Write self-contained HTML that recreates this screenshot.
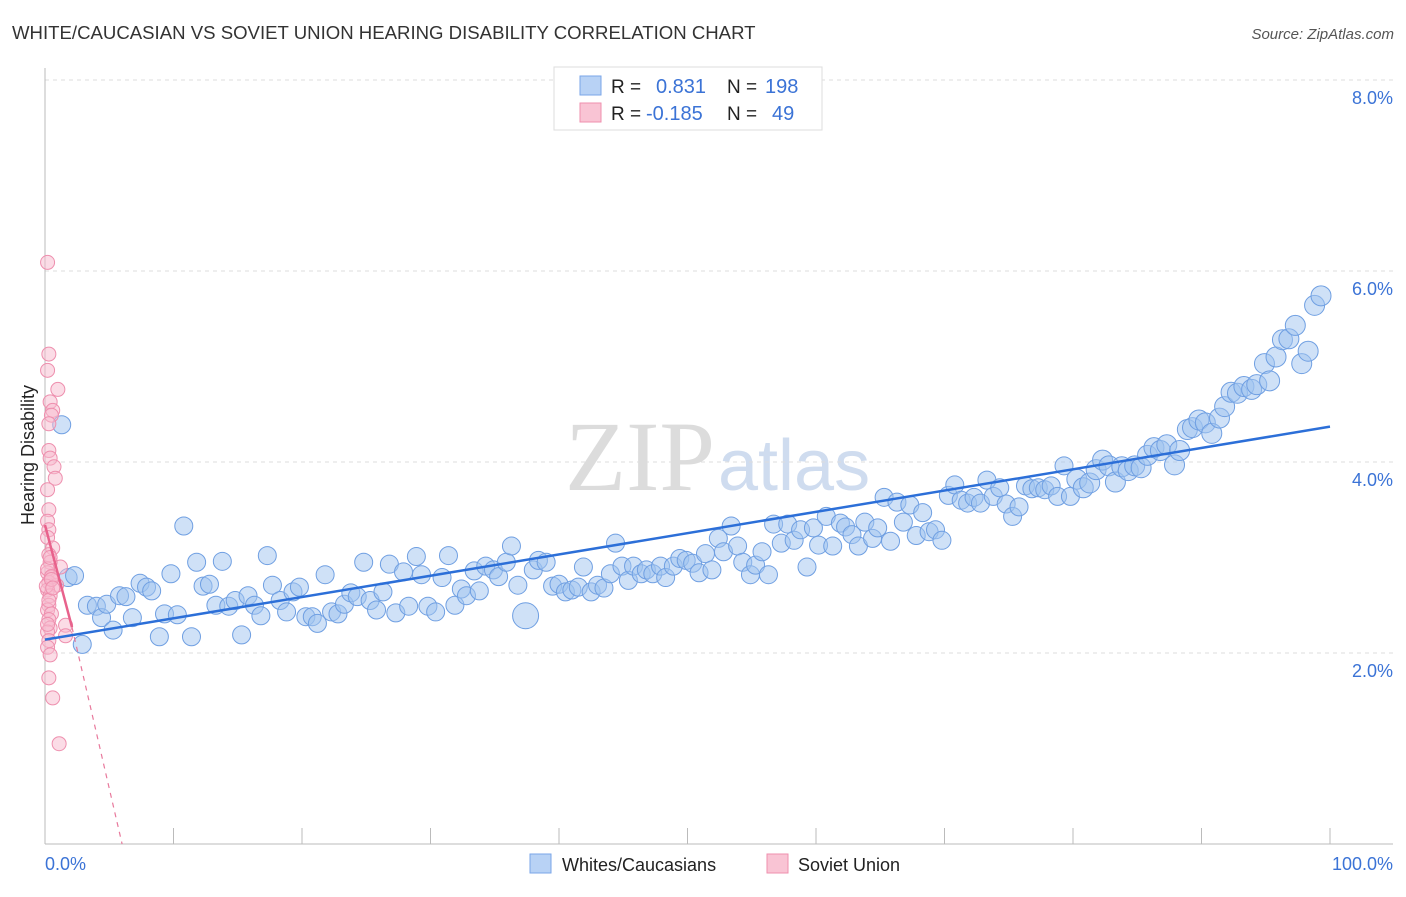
<!DOCTYPE html>
<html><head><meta charset="utf-8"><style>
body{margin:0;background:#fff;font-family:"Liberation Sans",sans-serif;}
</style></head><body>
<svg id="chart" width="1406" height="892" font-family="Liberation Sans, sans-serif">
<text x="12" y="39" font-size="18.6" fill="#333">WHITE/CAUCASIAN VS SOVIET UNION HEARING DISABILITY CORRELATION CHART</text>
<text x="1394" y="39" font-size="15" fill="#555" text-anchor="end" font-style="italic">Source: ZipAtlas.com</text>
<text x="715" y="490" font-size="100" fill="#dcdcdc" text-anchor="end" style="font-family:'Liberation Serif',serif">ZIP</text>
<text x="718" y="490" font-size="72" fill="#cfdcef">atlas</text>
<g id="grid"></g><g id="marks"></g>
<text transform="translate(34,455) rotate(-90)" font-size="18" fill="#222" text-anchor="middle">Hearing Disability</text>
<text x="45" y="870" font-size="18" fill="#3b73d6">0.0%</text>
<text x="1393" y="870" font-size="18" fill="#3b73d6" text-anchor="end">100.0%</text>
<g>
<rect x="554" y="67" width="268" height="63" fill="#fff" stroke="#ddd"/>
<rect x="580" y="76" width="21" height="19" fill="#b8d2f5" stroke="#7aa6e8"/>
<rect x="580" y="103" width="21" height="19" fill="#f9c4d4" stroke="#ef8fae"/>
<text x="611" y="93" font-size="19" fill="#222">R = </text><text x="656" y="93" font-size="20" fill="#3b73d6">0.831</text>
<text x="727" y="93" font-size="19" fill="#222">N = </text><text x="765" y="93" font-size="20" fill="#3b73d6">198</text>
<text x="611" y="120" font-size="19" fill="#222">R = </text><text x="646" y="120" font-size="20" fill="#3b73d6">-0.185</text>
<text x="727" y="120" font-size="19" fill="#222">N = </text><text x="772" y="120" font-size="20" fill="#3b73d6">49</text>
</g>
<g><rect x="530" y="854" width="21" height="19" fill="#b8d2f5" stroke="#7aa6e8"/><text x="562" y="871" font-size="18" fill="#222">Whites/Caucasians</text></g>
<g><rect x="767" y="854" width="21" height="19" fill="#f9c4d4" stroke="#ef8fae"/><text x="798" y="871" font-size="18" fill="#222">Soviet Union</text></g>
</svg>
<script>
const yTicks=[2,4,6,8];
const blueX=[1.3,1.8,2.3,2.9,3.3,4.0,4.4,4.8,5.3,5.8,6.3,6.8,7.4,7.9,8.3,8.9,9.3,9.8,10.3,10.8,11.4,11.8,12.3,12.8,13.3,13.8,14.3,14.8,15.3,15.8,16.3,16.8,17.3,17.7,18.3,18.8,19.3,19.8,20.3,20.8,21.2,21.8,22.3,22.8,23.3,23.8,24.3,24.8,25.3,25.8,26.3,26.8,27.3,27.9,28.3,28.9,29.3,29.8,30.4,30.9,31.4,31.9,32.4,32.8,33.4,33.8,34.3,34.9,35.3,35.9,36.3,36.8,37.4,38.0,38.4,39.0,39.5,40.0,40.5,41.0,41.5,41.9,42.5,43.0,43.5,44.0,44.4,44.9,45.4,45.8,46.4,46.8,47.3,47.9,48.3,48.9,49.4,49.9,50.4,50.9,51.4,51.9,52.4,52.8,53.4,53.9,54.3,54.9,55.3,55.8,56.3,56.7,57.3,57.8,58.3,58.8,59.3,59.8,60.2,60.8,61.3,61.9,62.3,62.8,63.3,63.8,64.4,64.8,65.3,65.8,66.3,66.8,67.3,67.8,68.3,68.8,69.3,69.8,70.3,70.8,71.3,71.8,72.3,72.8,73.3,73.8,74.3,74.8,75.3,75.8,76.3,76.8,77.3,77.8,78.3,78.8,79.3,79.8,80.3,80.8,81.3,81.8,82.3,82.8,83.3,83.8,84.3,84.8,85.3,85.8,86.3,86.8,87.3,87.9,88.3,88.9,89.3,89.8,90.3,90.8,91.4,91.8,92.3,92.8,93.3,93.9,94.3,94.9,95.3,95.8,96.3,96.8,97.3,97.8,98.3,98.8,99.3];
const blueY=[4.39,2.79,2.81,2.09,2.50,2.49,2.37,2.51,2.24,2.60,2.59,2.37,2.73,2.69,2.65,2.17,2.41,2.83,2.40,3.33,2.17,2.95,2.70,2.72,2.50,2.96,2.49,2.55,2.19,2.60,2.50,2.39,3.02,2.71,2.55,2.43,2.64,2.69,2.38,2.38,2.31,2.82,2.43,2.41,2.51,2.63,2.59,2.95,2.55,2.45,2.64,2.93,2.42,2.85,2.49,3.01,2.82,2.49,2.43,2.79,3.02,2.50,2.67,2.60,2.86,2.65,2.91,2.87,2.80,2.95,3.12,2.71,2.39,2.87,2.97,2.95,2.70,2.72,2.64,2.66,2.69,2.90,2.64,2.71,2.68,2.83,3.15,2.91,2.76,2.91,2.83,2.87,2.83,2.91,2.79,2.91,2.99,2.97,2.94,2.84,3.04,2.87,3.20,3.06,3.33,3.12,2.95,2.82,2.92,3.06,2.82,3.35,3.15,3.35,3.18,3.29,2.90,3.31,3.13,3.43,3.12,3.36,3.32,3.24,3.12,3.37,3.20,3.31,3.63,3.17,3.58,3.37,3.55,3.23,3.47,3.27,3.29,3.18,3.65,3.76,3.60,3.57,3.63,3.57,3.81,3.64,3.73,3.56,3.43,3.53,3.75,3.72,3.73,3.71,3.75,3.64,3.96,3.64,3.82,3.73,3.78,3.92,4.02,3.96,3.79,3.95,3.91,3.96,3.94,4.07,4.15,4.12,4.18,3.97,4.12,4.34,4.36,4.44,4.41,4.30,4.46,4.58,4.73,4.72,4.79,4.76,4.81,5.03,4.85,5.10,5.28,5.29,5.43,5.03,5.16,5.64,5.74];
const pinkX=[0.2,0.3,0.2,1.0,0.4,0.6,0.5,0.3,0.3,0.4,0.7,0.8,0.2,0.3,0.2,0.3,0.2,0.6,0.3,1.2,0.4,0.2,0.5,0.3,0.9,0.2,0.4,0.3,0.2,0.5,1.6,0.3,0.4,1.6,0.2,0.3,0.2,0.4,0.3,1.1,0.6,0.2,0.5,0.1,0.3,0.2,0.4,0.5,0.6];
const pinkY=[6.09,5.13,4.96,4.76,4.63,4.54,4.49,4.40,4.12,4.04,3.95,3.83,3.71,3.50,3.38,3.29,3.21,3.10,3.03,2.90,2.95,2.84,2.79,2.74,2.71,2.66,2.60,2.50,2.45,2.41,2.29,2.35,2.26,2.18,2.22,2.13,2.06,1.98,1.74,1.05,1.53,2.88,2.80,2.70,2.55,2.30,3.00,2.77,2.68];
const blueTrend=[2.14,4.37];
const pinkTrend=[3.34,2.27];
const pinkDashEnd=[6.0,0];
const X0=45,X1=1330,Y0=844,PX=95.5;
const xs=v=>X0+v/100*(X1-X0), ys=v=>Y0-v*PX;
const NS="http://www.w3.org/2000/svg";
const grid=document.getElementById('grid'), marks=document.getElementById('marks');
function mk(tag,at,par){const e=document.createElementNS(NS,tag);for(const k in at)e.setAttribute(k,at[k]);par.appendChild(e);return e;}
for(const t of yTicks){
 const l=mk('line',{x1:45,x2:1393,y1:ys(t),y2:ys(t),stroke:'#ddd','stroke-dasharray':'4,4'},grid);
 
 
 const tx=mk('text',{x:1393,y:ys(t)+24,'font-size':18,fill:'#3b73d6','text-anchor':'end'},grid);tx.textContent=t.toFixed(1)+'%';
 
 
}
mk('line',{x1:45,x2:45,y1:68,y2:844,stroke:'#bbb'},grid);
mk('line',{x1:45,x2:1393,y1:844,y2:844,stroke:'#bbb'},grid);
for(let i=0;i<=10;i++){const t=mk('line',{x1:xs(i*10),x2:xs(i*10),y1:828,y2:844,stroke:'#bbb'},grid);
 
 }
blueX.forEach((x,i)=>{const r=i==72?13:(x>80?10:9);
 const c=mk('circle',{cx:xs(x),cy:ys(blueY[i]),r:r,fill:'rgba(160,195,240,0.5)',stroke:'#6f9fe2','stroke-width':1},marks);
 
 });
pinkX.forEach((x,i)=>{const c=mk('circle',{cx:xs(x),cy:ys(pinkY[i]),r:7,fill:'rgba(248,185,205,0.5)',stroke:'#ee8fae','stroke-width':1},marks);
 
 });
const bl=mk('line',{x1:xs(0),y1:ys(blueTrend[0]),x2:xs(100),y2:ys(blueTrend[1]),stroke:'#2c6fd8','stroke-width':2.5},marks);


const pd=mk('line',{x1:xs(2.1),y1:ys(pinkTrend[1]),x2:xs(pinkDashEnd[0]),y2:ys(pinkDashEnd[1]),stroke:'#e8799c','stroke-width':1.2,'stroke-dasharray':'5,5'},marks);


const pl=mk('line',{x1:xs(0),y1:ys(pinkTrend[0]),x2:xs(2.1),y2:ys(pinkTrend[1]),stroke:'#e8628c','stroke-width':2.5},marks);


</script>
</body></html>
